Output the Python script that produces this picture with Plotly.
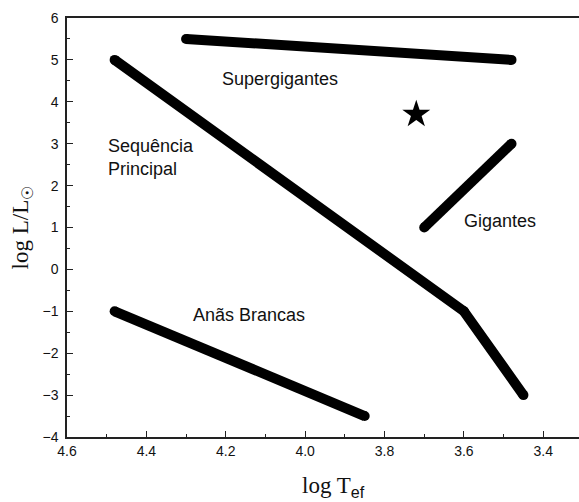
import plotly.graph_objects as go

# Schematic HR diagram: log Teff (reversed) vs log L/Lsun
supergiant_x = [4.30, 3.48]
supergiant_y = [5.5, 5.0]

main_seq_x = [4.48, 3.60, 3.45]
main_seq_y = [5.0, -1.0, -3.0]

giant_x = [3.70, 3.48]
giant_y = [1.0, 3.0]

white_dwarf_x = [4.48, 3.85]
white_dwarf_y = [-1.0, -3.5]

sun_x = [3.72]
sun_y = [3.7]

labels = ["Supergigantes", "Sequência<br>Principal", "Gigantes", "Anãs Brancas"]
label_x = [4.063, 4.503, 3.51, 4.142]
label_y = [4.54, 2.68, 1.16, -1.09]
label_anchor = ["center", "left", "center", "center"]

x_ticks = [4.6, 4.4, 4.2, 4.0, 3.8, 3.6, 3.4]
y_ticks = [-4, -3, -2, -1, 0, 1, 2, 3, 4, 5, 6]

fig = go.Figure()

for xs, ys in [(supergiant_x, supergiant_y), (main_seq_x, main_seq_y),
               (giant_x, giant_y), (white_dwarf_x, white_dwarf_y)]:
    fig.add_trace(go.Scatter(
        x=xs, y=ys, mode="lines+markers",
        line=dict(color="black", width=10),
        marker=dict(color="black", size=10, symbol="circle"),
        showlegend=False, hoverinfo="skip"))

fig.add_trace(go.Scatter(
    x=sun_x, y=sun_y, mode="markers",
    marker=dict(color="black", size=21, symbol="star"),
    showlegend=False, hoverinfo="skip"))

for t, x, y, a in zip(labels, label_x, label_y, label_anchor):
    fig.add_annotation(x=x, y=y, text=t, showarrow=False, xanchor=a,
                       align="left",
                       font=dict(family="Liberation Sans, Arial", size=18, color="#111"))

axis_font = dict(family="Liberation Sans, Arial", size=14, color="#111")

fig.update_xaxes(
    range=[4.6, 3.31], tickvals=x_ticks, ticktext=[f"{v:.1f}" for v in x_ticks],
    ticks="inside", ticklen=6, tickwidth=1.3, tickcolor="#222",
    minor=dict(dtick=0.1, tick0=3.4, ticks="inside", ticklen=3, tickwidth=1.3, tickcolor="#222"),
    showline=True, linecolor="#222", linewidth=1.5, mirror=True,
    showgrid=False, zeroline=False, tickfont=axis_font)

fig.update_yaxes(
    range=[-4, 6], tickvals=y_ticks,
    ticks="inside", ticklen=6, tickwidth=1.3, tickcolor="#222",
    minor=dict(dtick=0.5, tick0=0, ticks="inside", ticklen=3, tickwidth=1.3, tickcolor="#222"),
    showline=True, linecolor="#222", linewidth=1.5,
    showgrid=False, zeroline=False, tickfont=axis_font, ticklabelstandoff=4)

fig.add_annotation(xref="paper", yref="paper", x=0.52, y=-0.12, yanchor="middle",
                   showarrow=False,
                   text="log T<sub><span style='font-family:Liberation Sans, Arial'>ef</span></sub>",
                   font=dict(family="Liberation Serif, Times New Roman", size=23, color="#111"))
fig.add_annotation(xref="paper", yref="paper", x=-0.088, y=0.5, textangle=-90,
                   showarrow=False, xanchor="center", yanchor="middle",
                   text="log L/L<sub>☉</sub>",
                   font=dict(family="Liberation Serif, Times New Roman", size=23, color="#111"))

fig.update_layout(
    width=579, height=502,
    margin=dict(l=67, r=0, t=18, b=65),
    paper_bgcolor="white", plot_bgcolor="white",
)

fig.write_html("out.html")
